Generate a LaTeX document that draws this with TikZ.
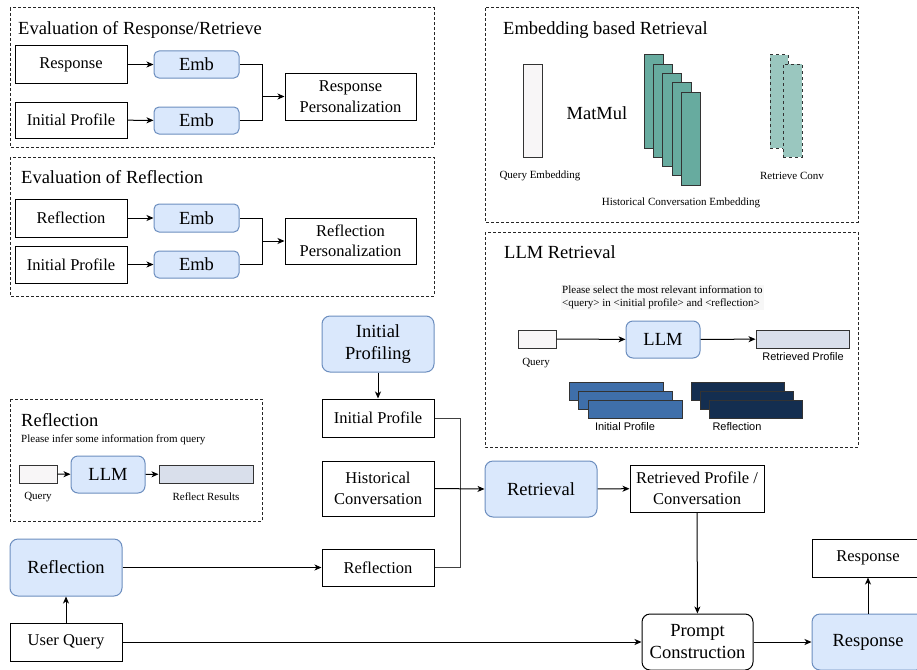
\documentclass[tikz,border=0pt]{standalone}
\usepackage{fontspec}
\setmainfont{Liberation Serif}
\newfontfamily\sansfam{Liberation Sans}
\usetikzlibrary{arrows.meta}
\newcommand\fszT{\fontsize{18.5}{22}\selectfont}
\newcommand\fszM{\fontsize{16.5}{20.5}\selectfont}
\newcommand\fszS{\fontsize{11}{12.4}\selectfont}
\definecolor{bfill}{HTML}{DAE8FC}
\definecolor{bdraw}{HTML}{6C8EBF}
\definecolor{qfill}{HTML}{F8F6F7}
\definecolor{rfill}{HTML}{D9DFEB}
\definecolor{gfill}{HTML}{67AB9F}
\definecolor{lgfill}{HTML}{9AC7BF}
\definecolor{ipfill}{HTML}{3F6FAA}
\definecolor{nvfill}{HTML}{142E50}
\definecolor{edgec}{HTML}{333333}
\tikzset{
  wbox/.style={draw=black, line width=1pt, fill=white, inner sep=0pt, align=center, font=\fszM},
  bbox/.style={draw=bdraw, line width=1pt, fill=bfill, rounded corners=8pt, inner sep=0pt, align=center, font=\fszT},
  ebox/.style={draw=bdraw, line width=1pt, fill=bfill, rounded corners=5pt, inner sep=0pt, font=\fszT},
  pbox/.style={draw=black, line width=1pt, fill=white, rounded corners=8pt, inner sep=0pt, align=center, font=\fszT},
  dbox/.style={draw=black!85, line width=1pt, dash pattern=on 3pt off 2pt},
  ttl/.style={anchor=base west, inner sep=0pt, font=\fszT},
  lbl/.style={inner sep=0pt, font=\fszS},
  slbl/.style={inner sep=0pt, font=\sansfam\fszS},
  bar/.style={draw=edgec, line width=1pt, inner sep=0pt},
  arr/.style={draw=black, line width=1pt, -{Stealth[length=7pt,width=6pt,inset=2pt]}},
  ln/.style={draw=black, line width=1pt},
}
\begin{document}
\begin{tikzpicture}[x=1pt,y=-1pt]
\useasboundingbox (0,0) rectangle (917,669);
\clip (0,0) rectangle (917,669);
\fill[white] (0,0) rectangle (917,669);

% ---------- Evaluation of Response/Retrieve ----------
\draw[dbox] (10,8) rectangle (434,147);
\node[ttl] (tA) at (18,34.5) {Evaluation of Response/Retrieve};
\node[wbox, minimum width=112pt, minimum height=37pt] (rsp) at (71,64.5) {Response};
\node[wbox, minimum width=112pt, minimum height=36pt] (ip1) at (71,120) {Initial Profile};
\node[ebox, minimum width=85pt, minimum height=27pt] (emb1) at (196.5,64.5) {Emb};
\node[ebox, minimum width=85pt, minimum height=27pt] (emb2) at (196.5,120.5) {Emb};
\node[wbox, minimum width=131pt, minimum height=47pt] (rp) at (350.5,96.5) {Response\\Personalization};
\coordinate (m1) at (262,96.5);
\draw[arr] (rsp) -- (emb1);
\draw[arr] (ip1) -- (emb2);
\draw[ln] (emb1.east) -| (m1);
\draw[ln] (emb2.east) -| (m1);
\draw[arr] (m1) -- (rp.west);

% ---------- Evaluation of Reflection ----------
\draw[dbox] (10,157) rectangle (434,296);
\node[ttl] (tB) at (21,183) {Evaluation of Reflection};
\node[wbox, minimum width=112pt, minimum height=38pt] (rf1) at (71,218) {Reflection};
\node[wbox, minimum width=112pt, minimum height=37pt] (ip2) at (71,264.5) {Initial Profile};
\node[ebox, minimum width=85pt, minimum height=28pt] (emb3) at (196.5,218) {Emb};
\node[ebox, minimum width=85pt, minimum height=27pt] (emb4) at (196.5,264.5) {Emb};
\node[wbox, minimum width=131pt, minimum height=46pt] (rfp) at (350.5,241) {Reflection\\Personalization};
\coordinate (m2) at (262,241);
\draw[arr] (rf1) -- (emb3);
\draw[arr] (ip2) -- (emb4);
\draw[ln] (emb3.east) -| (m2);
\draw[ln] (emb4.east) -| (m2);
\draw[arr] (m2) -- (rfp.west);

% ---------- Embedding based Retrieval ----------
\draw[dbox] (485,8) rectangle (858,222);
\node[ttl] (tC) at (503,34.5) {Embedding based Retrieval};
\node[bar, fill=qfill, minimum width=19pt, minimum height=93pt] (qe) at (532.5,110.5) {};
\node[lbl] (qel) at (540,176) {Query Embedding};
\node[inner sep=0pt, font=\fszT] (mm) at (597,113) {MatMul};
\foreach \i in {0,...,4}{
  \node[bar, fill=gfill, minimum width=19pt, minimum height=93pt] (g\i) at (653.5+9.33*\i,101.5+9.33*\i) {};
}
\node[lbl] (hcl) at (681,203) {Historical Conversation Embedding};
\node[bar, fill=lgfill, dashed, minimum width=18pt, minimum height=93pt] (rc1) at (779,101.5) {};
\node[bar, fill=lgfill, dashed, minimum width=19pt, minimum height=93pt] (rc2) at (792.5,110.5) {};
\node[lbl] (rcl) at (792,176) {Retrieve Conv};

% ---------- LLM Retrieval ----------
\draw[dbox] (485,232) rectangle (858,447);
\node[ttl] (tD) at (504,258) {LLM Retrieval};
\node[lbl, anchor=north west, align=left, fill=black!3, inner sep=1pt] (prm) at (561,285) {Please select the most relevant information to\\\textless query\textgreater{} in \textless initial profile\textgreater{} and \textless reflection\textgreater};
\node[bar, fill=qfill, minimum width=38pt, minimum height=18pt] (q2) at (537,339) {};
\node[ebox, minimum width=74pt, minimum height=37pt, rounded corners=7pt] (llm2) at (663,339.5) {LLM};
\node[bar, fill=rfill, minimum width=93pt, minimum height=18pt] (rtp) at (802.5,339) {};
\node[lbl] (q2l) at (536,363) {Query};
\node[slbl] (rtpl) at (803,357) {Retrieved Profile};
\draw[arr] (q2) -- (llm2);
\draw[arr] (llm2) -- (rtp);
\foreach \i in {0,1,2}{
  \node[bar, fill=ipfill, minimum width=94pt, minimum height=18pt] (ps\i) at (616+9.5*\i,391+9.3*\i) {};
  \node[bar, fill=nvfill, minimum width=93pt, minimum height=18pt] (ns\i) at (737.5+9.2*\i,391+9.3*\i) {};
}
\node[slbl] (psl) at (625,427) {Initial Profile};
\node[slbl] (nsl) at (737,427) {Reflection};

% ---------- Reflection (inset) ----------
\draw[dbox] (10,399) rectangle (262,521);
\node[ttl] (tE) at (21,426) {Reflection};
\node[lbl, anchor=west] (inf) at (21,440) {Please infer some information from query};
\node[bar, fill=qfill, minimum width=38pt, minimum height=18pt] (q3) at (38,474) {};
\node[ebox, minimum width=74pt, minimum height=37pt, rounded corners=7pt] (llm3) at (108,474.5) {LLM};
\node[bar, fill=rfill, minimum width=94pt, minimum height=18pt] (rr) at (206,474) {};
\node[lbl] (q3l) at (38,497) {Query};
\node[lbl] (rrl) at (206,497) {Reflect Results};
\draw[arr] (q3) -- (llm3);
\draw[arr] (llm3) -- (rr);

% ---------- main flow ----------
\node[bbox, minimum width=112pt, minimum height=56pt] (ipf) at (378,344) {Initial\\Profiling};
\node[wbox, minimum width=112pt, minimum height=38pt] (ipm) at (378,418) {Initial Profile};
\node[wbox, minimum width=112pt, minimum height=55pt] (hc) at (378,488.5) {Historical\\Conversation};
\node[wbox, minimum width=112pt, minimum height=37pt] (rfm) at (378,567.5) {Reflection};
\node[bbox, minimum width=112pt, minimum height=57pt] (rfb) at (66,567.5) {Reflection};
\node[wbox, minimum width=112pt, minimum height=38pt] (uq) at (66,642) {User Query};
\node[bbox, minimum width=112pt, minimum height=56pt] (ret) at (541,489) {Retrieval};
\node[wbox, minimum width=134pt, minimum height=47pt] (rpc) at (697,488.5) {Retrieved Profile /\\Conversation};
\node[pbox, minimum width=111pt, minimum height=56pt] (pc) at (697.5,642) {Prompt\\Construction};
\node[bbox, minimum width=112pt, minimum height=56pt] (rsb) at (868,642) {Response};
\node[wbox, minimum width=112pt, minimum height=38pt] (rsw) at (868,558) {Response};

\draw[arr] (ipf) -- (ipm);
\draw[ln, draw=black!75] (ipm.east) -- ++(26,0) |- (rfm.east);
\draw[arr] (hc.east) -- (ret.west);
\draw[arr] (rfb) -- (rfm);
\draw[arr] (uq) -- (rfb);
\draw[arr] (uq) -- (pc);
\draw[arr] (ret) -- (rpc);
\draw[arr] (rpc) -- (pc);
\draw[arr] (pc) -- (rsb);
\draw[arr] (rsb) -- (rsw);
\end{tikzpicture}
\end{document}
